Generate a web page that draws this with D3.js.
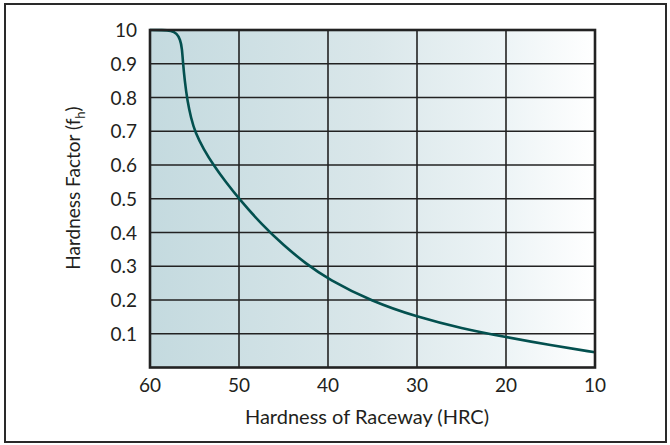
<!DOCTYPE html>
<html>
<head>
<meta charset="utf-8">
<script src="https://cdn.jsdelivr.net/npm/d3@7"></script>
<style>
  body { margin: 0; background: #fff; }
  text { font-family: "Lato", sans-serif; fill: #231f20; }
</style>
</head>
<body>
<svg width="670" height="445"></svg>
<script>
// data
const hrc    = [60, 58.6, 57.6, 57.0, 56.6, 56.4, 56.3, 56.1, 55.8, 55.4, 54.9, 54.0, 52.8, 51.5, 50, 47.5, 45, 42.5, 40, 35, 30, 25, 20, 15, 10];
const factor = [1.0, 1.0, 0.998, 0.99, 0.972, 0.945, 0.905, 0.85, 0.79, 0.74, 0.695, 0.648, 0.597, 0.55, 0.5, 0.425, 0.362, 0.308, 0.262, 0.195, 0.15, 0.116, 0.09, 0.066, 0.045];
const xTicks = [60, 50, 40, 30, 20, 10];
const yTicks = [0.1, 0.2, 0.3, 0.4, 0.5, 0.6, 0.7, 0.8, 0.9, 1.0];
const yTickLabels = ["0.1", "0.2", "0.3", "0.4", "0.5", "0.6", "0.7", "0.8", "0.9", "10"];

const svg = d3.select("svg");

// outer frame
svg.append("rect")
    .attr("x", 5).attr("y", 4).attr("width", 661).attr("height", 438)
    .attr("fill", "none").attr("stroke", "#2a2a2a").attr("stroke-width", 2);

const x = d3.scaleLinear().domain([60, 10]).range([150, 595]);
const y = d3.scaleLinear().domain([0, 1]).range([367.5, 30]);

// background gradient
const grad = svg.append("defs").append("linearGradient")
    .attr("id", "bg").attr("x1", "0%").attr("x2", "100%");
grad.append("stop").attr("offset", "0%").attr("stop-color", "#c4dadf");
grad.append("stop").attr("offset", "50%").attr("stop-color", "#dae7ea");
grad.append("stop").attr("offset", "80%").attr("stop-color", "#edf4f6");
grad.append("stop").attr("offset", "100%").attr("stop-color", "#ffffff");

svg.append("rect")
    .attr("x", x(60)).attr("y", y(1))
    .attr("width", x(10) - x(60)).attr("height", y(0) - y(1))
    .attr("fill", "url(#bg)");

// grid
svg.append("g").selectAll("line")
    .data(xTicks.slice(1, -1))
    .enter().append("line")
    .attr("x1", d => x(d)).attr("x2", d => x(d))
    .attr("y1", y(1)).attr("y2", y(0))
    .attr("stroke", "#222").attr("stroke-width", 1.6);

svg.append("g").selectAll("line")
    .data(yTicks.slice(0, -1))
    .enter().append("line")
    .attr("x1", x(60)).attr("x2", x(10))
    .attr("y1", d => y(d)).attr("y2", d => y(d))
    .attr("stroke", "#222").attr("stroke-width", 1.6);

// curve
const line = d3.line()
    .x((d, i) => x(hrc[i]))
    .y(d => y(d))
    .curve(d3.curveBasis);

svg.append("path")
    .datum(factor)
    .attr("d", line)
    .attr("fill", "none")
    .attr("stroke", "#03504f")
    .attr("stroke-width", 2.6);

// plot frame
svg.append("rect")
    .attr("x", x(60)).attr("y", y(1))
    .attr("width", x(10) - x(60)).attr("height", y(0) - y(1))
    .attr("fill", "none").attr("stroke", "#222").attr("stroke-width", 2.6);

// tick labels
svg.append("g").selectAll("text")
    .data(xTicks)
    .enter().append("text")
    .attr("x", d => x(d)).attr("y", 392)
    .attr("text-anchor", "middle")
    .style("font-size", "19px")
    .text(d => d);

svg.append("g").selectAll("text")
    .data(yTicks)
    .enter().append("text")
    .attr("x", 137).attr("y", d => y(d) + 7)
    .attr("text-anchor", "end")
    .style("font-size", "19px")
    .text((d, i) => yTickLabels[i]);

// axis titles
svg.append("text")
    .attr("x", 367).attr("y", 424)
    .attr("text-anchor", "middle")
    .style("font-size", "20px")
    .text("Hardness of Raceway (HRC)");

const yt = svg.append("text")
    .attr("transform", "translate(80,188) rotate(-90)")
    .attr("text-anchor", "middle")
    .style("font-size", "19px");
yt.append("tspan").text("Hardness Factor (f");
yt.append("tspan").attr("dy", 5).style("font-size", "13px").text("h");
yt.append("tspan").attr("dy", -5).text(")");
</script>
</body>
</html>
